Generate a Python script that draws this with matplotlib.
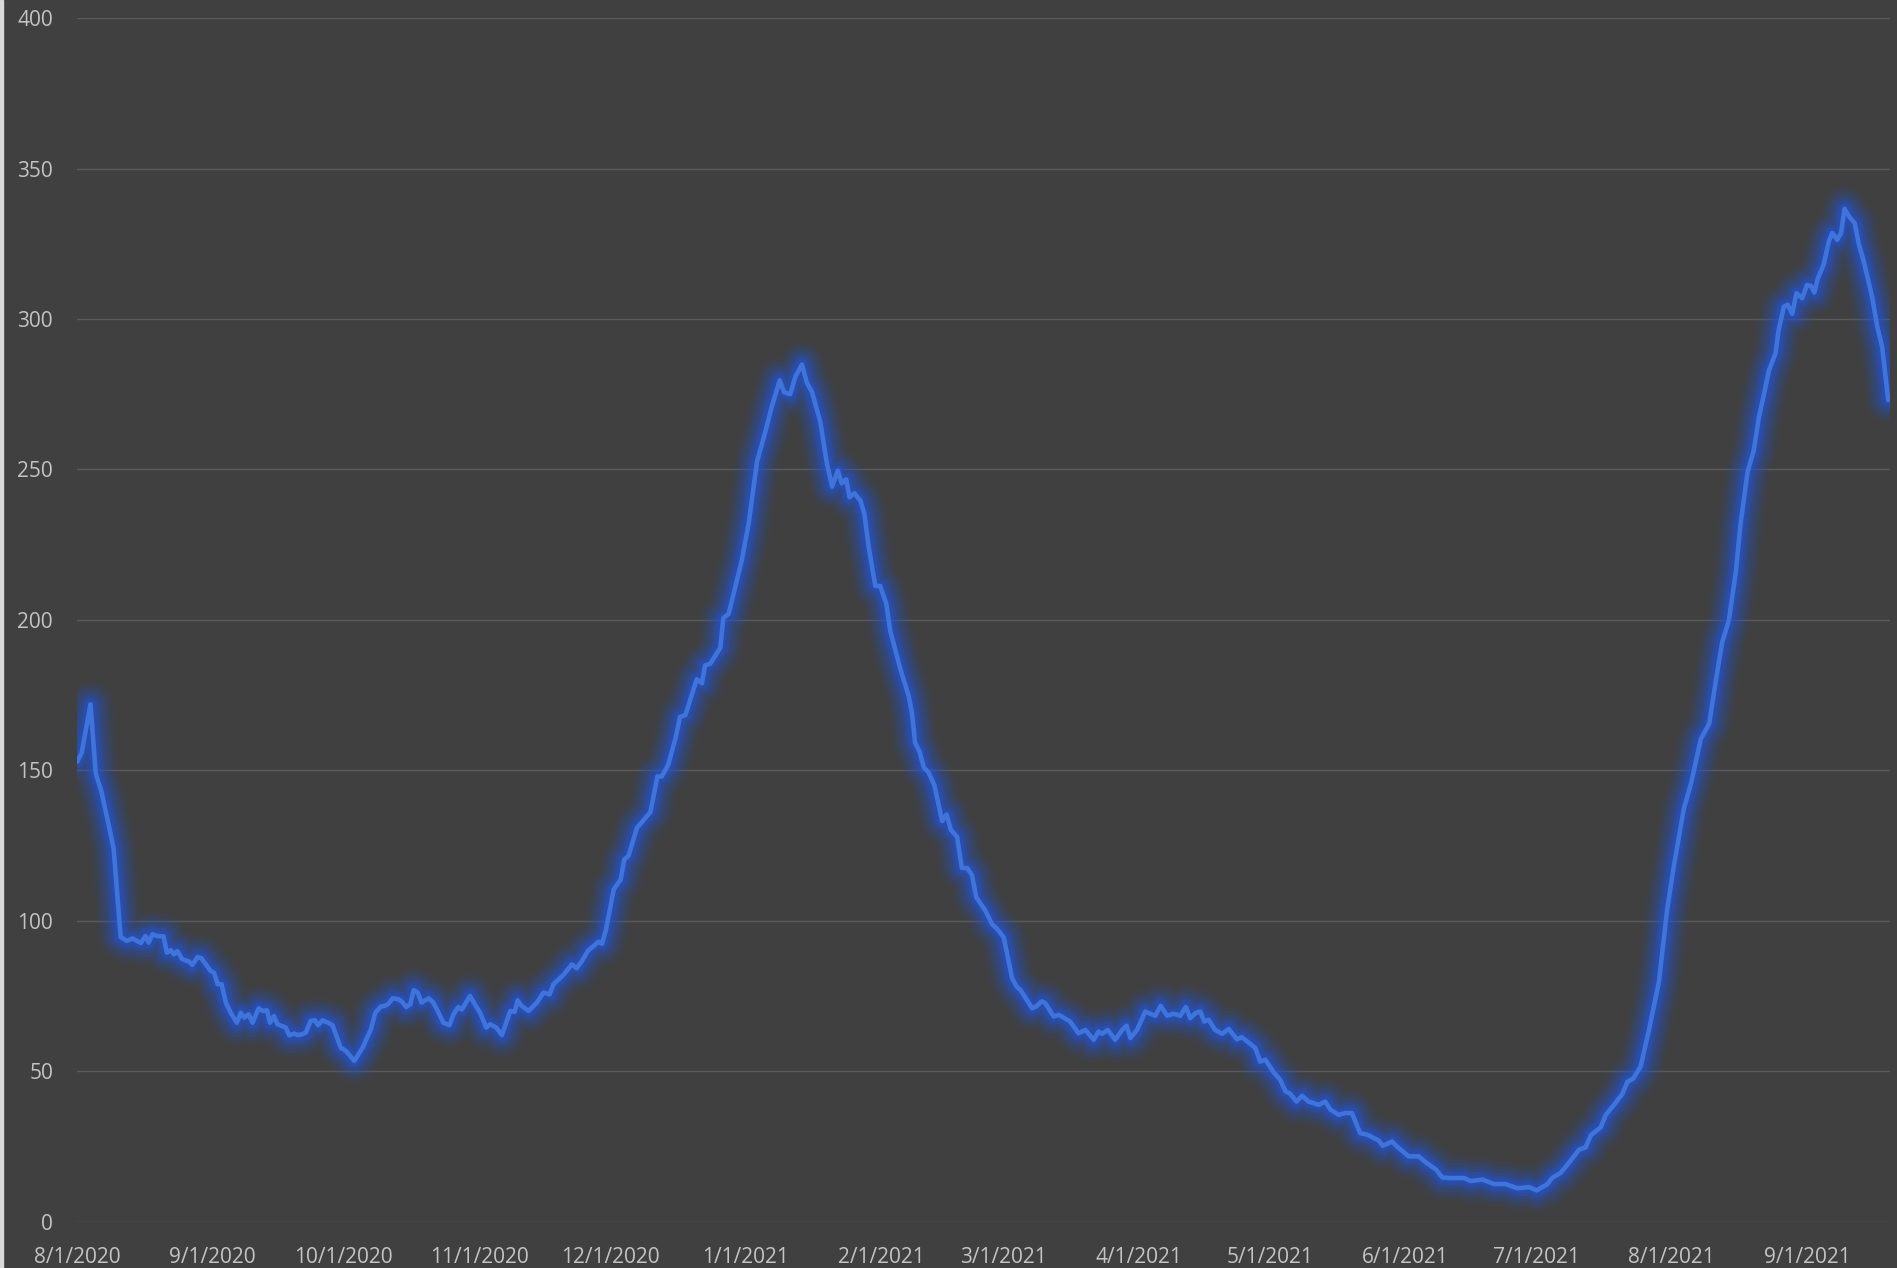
import datetime as dt
import matplotlib
matplotlib.use("Agg")
import matplotlib.pyplot as plt

# --- data ---
# day offsets counted from 8/1/2020, and the plotted value on that day
start = dt.datetime(2020, 8, 1)
days = [
    0, 1, 3, 4.2, 5.5, 7, 8.3, 9.9, 11.3, 12.6, 14.5, 15.6, 16.3, 17.2, 18.3, 19.7,
    20.5, 21.4, 22.1, 22.9, 24, 25.6, 26.3, 27.5, 28.4, 30.5, 31.3, 32.1, 33, 34,
    35.1, 36.5, 37.4, 38.2, 39.2, 40.1, 41.5, 42.4, 43.4, 44.1, 45, 45.8, 46.8, 47.7,
    48.5, 49.6, 50.4, 51.3, 52.3, 53.4, 54.4, 55.1, 56.1, 57.4, 58.4, 60.3, 61.5, 63.4,
    65.3, 67.2, 68.2, 69.5, 70.4, 71.2, 72.2, 73.5, 74.3, 75.3, 76.2, 77, 77.9, 78.8,
    80.4, 81.5, 82.7, 83.8, 85.2, 86.1, 87.2, 88, 89.9, 91, 92.2, 93.6, 94.5, 95.9,
    97.2, 99.1, 100.1, 100.8, 101.7, 103.3, 105.2, 106.7, 108.1, 109, 111.3, 113.2,
    114.3, 115.5, 117, 118.2, 119.3, 120.1, 121, 122.8, 124.4, 125.2, 126.2, 128.1,
    131.2, 132.8, 133.8, 135.3, 136.9, 138, 139.2, 141.8, 143, 143.7, 144.9, 147.2,
    147.9, 149.1, 152.1, 153.7, 155.6, 157.5, 159, 160.8, 161.8, 163.2, 164.4, 165.9,
    167, 168.2, 170.1, 171.6, 172.8, 174.1, 175, 176, 176.8, 177.9, 179.3, 180.2,
    181.2, 182.7, 183.8, 185.2, 186.1, 188.4, 190.3, 191.1, 191.8, 192.8, 193.8, 194.9,
    196.2, 198, 199, 200, 201.4, 202.5, 203.7, 204.8, 205.8, 207.9, 209.4, 210.5,
    212.1, 214, 215.1, 215.9, 218.6, 219.5, 220.8, 221.6, 223.5, 224.7, 227.3, 229.2,
    230.8, 232.7, 233.8, 234.6, 235.9, 237.6, 239.2, 240.2, 241.1, 242.6, 244.5, 246.8,
    248, 249.5, 251, 252.5, 253.8, 254.8, 256, 257.1, 258, 259, 260.5, 262.1,
    263.6, 265.5, 266.6, 269.7, 270.8, 272, 273.9, 275.4, 276.6, 277.7, 279.1, 280.4,
    281.9, 284.2, 285.7, 286.9, 288.8, 290.3, 291.8, 293.7, 295.3, 297.9, 298.9, 301,
    302.1, 304.8, 307.1, 309, 311, 312.5, 314.4, 317.5, 319, 321.7, 324.3, 327,
    329.7, 332.3, 334.1, 336.5, 337.7, 339.6, 341.9, 343.8, 345.3, 346.5, 348.8, 349.9,
    351.8, 353.7, 354.9, 356.2, 357.9, 359.8, 362.1, 364, 365.5, 367.8, 369.4, 371.7,
    373.6, 375.1, 376.6, 378.1, 379.7, 380.8, 382.4, 383.8, 385, 386.1, 387.3, 388.8,
    389.5, 390.7, 391.6, 392.6, 393.6, 394.9, 396, 396.9, 397.7, 398.5, 399.8, 401,
    401.8, 402.9, 403.8, 404.6, 405.6, 406.9, 407.9, 409, 410.9, 412.1, 413.2, 414.6,
]
values = [
    153, 156, 172, 149, 143, 133, 124, 94.7, 93.4, 94.2, 92.7, 95, 92.8, 95.6, 95, 94.9,
    89.5, 90.3, 88.9, 90, 87.3, 86.5, 85.4, 88, 87.6, 83.4, 82.8, 79, 79, 72.9,
    69.5, 66.2, 69.5, 67.9, 69, 66.2, 71, 70.1, 70.3, 66.2, 68.4, 65.7, 65.1, 64.6,
    62, 62.6, 62.1, 62.3, 62.9, 66.8, 67, 65.4, 67, 66.2, 65.4, 57.9, 56.8, 53.5,
    57.9, 64, 69.5, 71.6, 71.8, 72.5, 74.3, 74, 73.2, 71.4, 72.3, 77, 76.2, 72.9,
    74.3, 72.9, 69.5, 66.2, 65.4, 69, 71.4, 70.6, 75.1, 72.3, 69.5, 64.6, 65.7, 64.6,
    62.1, 70.1, 69.8, 73.6, 71.8, 70.1, 72.9, 76.2, 75.6, 79, 82.1, 85.6,
    84.3, 86.7, 90.3, 91.7, 93.1, 92.4, 97, 110.5, 113.8, 120.4, 121.7, 130.9,
    136.2, 148, 148, 152, 160.5, 167.8, 168.4, 180.3, 179, 184.9, 185.5, 190.8,
    200.7, 202, 219.7, 232.2, 252.6, 262.5, 271, 279.6, 275.7, 275, 280.9, 284.9,
    278.9, 275.7, 265.8, 252, 244.3, 249.6, 245.4, 246.7, 240.8, 242.1, 239.6, 235.1,
    224, 211.3, 211.3, 205.4, 196.4, 183.8, 174.9, 168.9, 159.2, 156.3, 151, 149.3,
    145.1, 133.2, 135.4, 130.2, 128, 117.6, 117.6, 115.3, 107.9, 103.4, 98.9, 97.5,
    94.5, 81, 78.1, 77.1, 71, 71.6, 73.3, 72.7, 68.3, 68.8, 66.6, 62.7,
    63.8, 60.5, 63.3, 62.5, 63.8, 60.5, 63.8, 65.2, 61.1, 63.8, 69.9, 68.5,
    71.8, 68.5, 69.2, 68.5, 71.4, 67.7, 69.4, 69.9, 66.6, 67.2, 63.8, 62.5,
    64.1, 60.7, 61.4, 57.8, 53.3, 53.9, 49.7, 47.2, 43.4, 42.6, 40, 41.9,
    40, 38.9, 40, 37.3, 35.6, 36.2, 36.2, 29.5, 29, 27.1, 25.3, 26.7,
    25.1, 21.8, 21.8, 19.5, 17.5, 14.8, 14.6, 14.6, 13.6, 14.1, 12.6, 12.6,
    11.2, 11.6, 10.5, 12.5, 14.7, 16.3, 20.4, 24, 24.8, 28.8, 31.5, 35.5,
    38.9, 42.5, 46.6, 47.6, 51.6, 63.7, 79.8, 104, 118.1, 137.3, 145.4, 160.5,
    165.5, 179.6, 192.7, 199.8, 215.9, 232.1, 249.2, 256.3, 267.4, 274.7, 283, 288.6,
    296.3, 304.1, 304.7, 301.7, 308.6, 306.9, 311.3, 311, 308.8, 313.6, 318, 325.8,
    328.6, 326.3, 328.6, 336.6, 334.1, 331.9, 324.7, 319.1, 307.4, 297.4, 290.8, 273,
]
tick_dates = [
    "2020-08-01", "2020-09-01", "2020-10-01", "2020-11-01", "2020-12-01",
    "2021-01-01", "2021-02-01", "2021-03-01", "2021-04-01", "2021-05-01",
    "2021-06-01", "2021-07-01", "2021-08-01", "2021-09-01",
]
y_ticks = [0, 50, 100, 150, 200, 250, 300, 350, 400]

x = [start + dt.timedelta(days=d) for d in days]
tx = [dt.datetime.strptime(d, "%Y-%m-%d") for d in tick_dates]
tick_labels = [f"{d.month}/{d.day}/{d.year}" for d in tx]

bg = "#404040"
fig = plt.figure(figsize=(18.97, 12.68), dpi=100, facecolor=bg)
ax = fig.add_axes([0.0408, 0.0363, 0.9555, 0.9495], facecolor=bg)

# soft glow under the line (stacked translucent strokes)
for lw, a in [(32, 0.07), (26, 0.10), (21, 0.13), (16, 0.17), (12, 0.22), (8, 0.30)]:
    ax.plot(x, values, color="#1f55e0", lw=lw, alpha=a,
            solid_joinstyle="round", solid_capstyle="round", zorder=2)
ax.plot(x, values, color="#3f74dc", lw=3.3,
        solid_joinstyle="round", solid_capstyle="round", zorder=3)

ax.set_ylim(0, 400)
ax.set_xlim(start, start + dt.timedelta(days=415))
ax.set_yticks(y_ticks)
ax.set_xticks(tx)
ax.set_xticklabels(tick_labels)
ax.grid(axis="y", color="#5a5a5a", lw=1.0, zorder=1)
ax.set_axisbelow(True)
for s in ax.spines.values():
    s.set_visible(False)
ax.tick_params(axis="both", length=0, colors="#c4c4c4", labelsize=15)
ax.tick_params(axis="y", pad=17.5)
ax.tick_params(axis="x", pad=18)
for lab in ax.get_xticklabels() + ax.get_yticklabels():
    lab.set_fontfamily("Open Sans")

# thin light strip at the far left edge
fig.patches.append(plt.Rectangle((0, 0), 0.0015, 1, transform=fig.transFigure,
                                 color="#d9d9d9", zorder=0))

fig.savefig("out.png", dpi=100, facecolor=bg)
